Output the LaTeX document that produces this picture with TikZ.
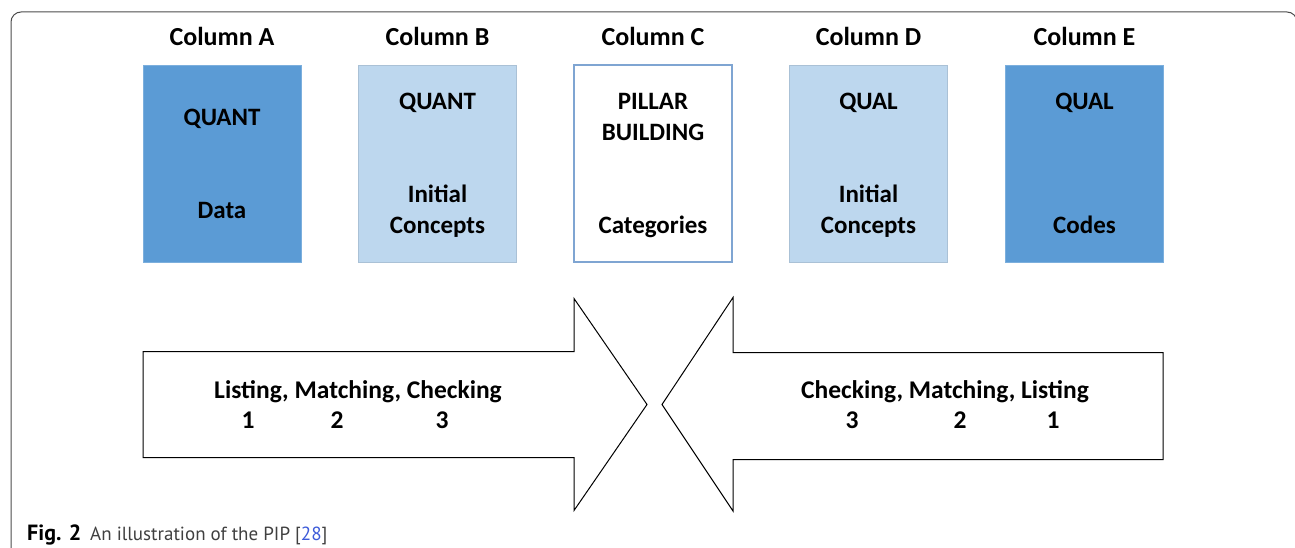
\documentclass[tikz,border=0pt]{standalone}
\usepackage{xcolor}
\usepackage{fontspec}
\setmainfont{Carlito}
\newfontfamily\capfont{PT Sans}
\usepackage{tikz}
\usetikzlibrary{positioning}

\definecolor{darkblue}{HTML}{5B9BD5}
\definecolor{lightblue}{HTML}{BDD7EE}
\definecolor{edgeblue}{HTML}{7FA5D2}
\definecolor{linkblue}{HTML}{3D5BD9}

\tikzset{
  colbox/.style={minimum width=158pt,minimum height=197pt,inner sep=0pt,
    align=center,font=\fontsize{25}{31}\selectfont\bfseries},
  boxtext/.style={align=center,inner sep=0pt,font=\fontsize{25}{31}\selectfont\bfseries},
  colhead/.style={anchor=base,inner sep=0pt,font=\fontsize{26}{31}\selectfont\bfseries},
  steptext/.style={anchor=base,inner sep=0pt,font=\fontsize{25.5}{31}\selectfont\bfseries},
}

\begin{document}
\begin{tikzpicture}[x=1pt,y=-1pt]
    \useasboundingbox (0,0) rectangle (1295,548);
    \clip (0,0) rectangle (1295,548);
    % frame
    \draw[black!70,line width=1pt,rounded corners=10pt]
      (11,560) -- (11,12) -- (1297,12) -- (1297,560);

    % the five columns
    \node[colbox,fill=darkblue,draw=darkblue!80] (a) at (222,163.5) {};
    \node[colbox,fill=lightblue,draw=lightblue!90!black] (b) at (437.5,163.5) {};
    \node[colbox,fill=white,draw=edgeblue,line width=1.2pt] (c) at (653,163.5) {};
    \node[colbox,fill=lightblue,draw=lightblue!90!black] (d) at (868.5,163.5) {};
    \node[colbox,fill=darkblue,draw=darkblue!80] (e) at (1084.5,163.5) {};

    \node[boxtext] (ta) at (222,163.5) {QUANT\\[62pt]Data};
    \node[boxtext] (tb) at (437.5,165.5) {QUANT\\[62pt]Initial\\Concepts};
    \node[boxtext] (tc) at (653,165.5) {PILLAR\\BUILDING\\[62pt]Categories};
    \node[boxtext] (td) at (868.5,165.5) {QUAL\\[62pt]Initial\\Concepts};
    \node[boxtext] (te) at (1084.5,163.5) {QUAL\\[93pt]Codes};

    \node[colhead] (ha) at (222,46) {Column A};
    \node[colhead] (hb) at (437.5,46) {Column B};
    \node[colhead] (hc) at (653,46) {Column C};
    \node[colhead] (hd) at (868.5,46) {Column D};
    \node[colhead] (he) at (1084.5,46) {Column E};

    % the two arrows
    \draw[line width=1pt,line join=miter] (143,351.5) -- (574,351.5) -- (574,298.5)
      -- (647,404.5) -- (574,510.5) -- (574,457.5) -- (143,457.5) -- cycle;
    \draw[line width=1pt,line join=miter] (1163,352.5) -- (733,352.5) -- (733,297.5)
      -- (662,404.5) -- (733,511) -- (733,459.5) -- (1163,459.5) -- cycle;

    \node[steptext] (lsteps) at (358,398) {Listing, Matching, Checking};
    \node[steptext] (lone) at (248,428) {1};
    \node[steptext] (ltwo) at (337,428) {2};
    \node[steptext] (lthree) at (442,428) {3};

    \node[steptext] (rsteps) at (945,398) {Checking, Matching, Listing};
    \node[steptext] (rthree) at (852,428) {3};
    \node[steptext] (rtwo) at (960,428) {2};
    \node[steptext] (rone) at (1053,428) {1};

    % caption
    \node[anchor=base west,inner sep=0pt,font=\capfont\fontsize{22}{25}\selectfont\bfseries] (fig) at (27,540) {Fig. 2};
    \node[anchor=base west,inner sep=0pt,font=\capfont\fontsize{19}{25}\selectfont,text=black!75] (cap) at (90,540)
      {An illustration of the PIP [\textcolor{linkblue}{28}]};
\end{tikzpicture}
\end{document}
